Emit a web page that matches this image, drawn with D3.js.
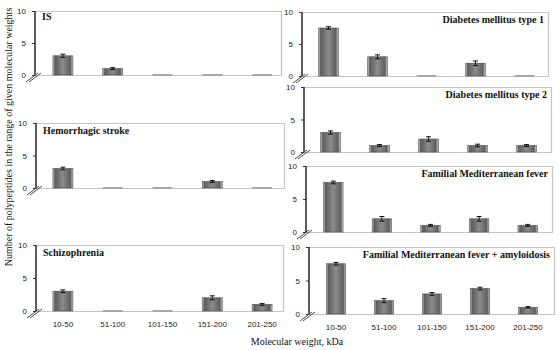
<!DOCTYPE html>
<html>
<head>
<meta charset="utf-8">
<script src="https://cdn.jsdelivr.net/npm/d3@7"></script>
<style>
  html, body { margin: 0; padding: 0; background: #fff; }
  svg { display: block; }
  .serif { font-family: "Liberation Serif", "DejaVu Serif", "Times New Roman", Times, serif; }
  .sans { font-family: "Liberation Sans", Arial, Helvetica, sans-serif; }
</style>
</head>
<body>
<svg id="chart" width="560" height="350"></svg>
<script>
// ---- data ----
const categories = ["10-50", "51-100", "101-150", "151-200", "201-250"];
const yTicks = [0, 5, 10];
const panelTitles = [
  "IS", "Hemorrhagic stroke", "Schizophrenia",
  "Diabetes mellitus type 1", "Diabetes mellitus type 2",
  "Familial Mediterranean fever", "Familial Mediterranean fever + amyloidosis"
];
const valuesIS            = [3, 1, 0, 0, 0];
const valuesHemorrhagic   = [3, 0, 0, 1, 0];
const valuesSchizophrenia = [3, 0, 0, 2, 1];
const valuesDM1           = [7.5, 3, 0, 2, 0];
const valuesDM2           = [3, 1, 2, 1, 1];
const valuesFMF           = [7.5, 2, 1, 2, 1];
const valuesFMFAmyloid    = [7.5, 2, 3, 3.8, 1];
const errIS            = [0.25, 0.15, 0, 0, 0];
const errHemorrhagic   = [0.2, 0, 0, 0.15, 0];
const errSchizophrenia = [0.2, 0, 0, 0.3, 0.15];
const errDM1           = [0.2, 0.3, 0, 0.35, 0];
const errDM2           = [0.25, 0.15, 0.35, 0.2, 0.15];
const errFMF           = [0.2, 0.35, 0.15, 0.35, 0.15];
const errFMFAmyloid    = [0.2, 0.3, 0.2, 0.2, 0.1];
const yLabel = "Number of polypeptides in the range of given molecular weights";
const xLabel = "Molecular weight, kDa";

const seriesValues = [valuesIS, valuesHemorrhagic, valuesSchizophrenia, valuesDM1, valuesDM2, valuesFMF, valuesFMFAmyloid];
const seriesErrors = [errIS, errHemorrhagic, errSchizophrenia, errDM1, errDM2, errFMF, errFMFAmyloid];

// ---- layout (positions only) ----
const layout = [
  {x0: 35,  x1: 281, yTop: 11,  yZero: 75,  b0: 38,  b1: 287, titleAnchor: "start", showX: false},
  {x0: 36,  x1: 284, yTop: 123, yZero: 188, b0: 38,  b1: 287, titleAnchor: "start", showX: false},
  {x0: 36,  x1: 283, yTop: 245, yZero: 311, b0: 38,  b1: 287, titleAnchor: "start", showX: true},
  {x0: 302, x1: 548, yTop: 12,  yZero: 76,  b0: 304, b1: 549, titleAnchor: "end", showX: false},
  {x0: 304, x1: 551, yTop: 87,  yZero: 152, b0: 306, b1: 551, titleAnchor: "end", showX: false},
  {x0: 306, x1: 552, yTop: 166, yZero: 232, b0: 309, b1: 552, titleAnchor: "end", showX: false},
  {x0: 309, x1: 554, yTop: 247, yZero: 314, b0: 312, b1: 552, titleAnchor: "end", showX: true}
];

const svg = d3.select("#chart");
const defs = svg.append("defs");
const grad = defs.append("linearGradient").attr("id", "barGrad")
  .attr("x1", "0%").attr("x2", "100%").attr("y1", "0%").attr("y2", "0%");
[[0, "#d4d4d4"], [0.1, "#5c5c5c"], [0.5, "#8c8c8c"], [0.88, "#5e5e5e"], [1, "#cfcfcf"]]
  .forEach(([o, c]) => grad.append("stop").attr("offset", o).attr("stop-color", c));

layout.forEach((L, i) => {
  const vals = seriesValues[i];
  const errs = seriesErrors[i];
  const g = svg.append("g");
  const x = d3.scaleBand().domain(categories).range([L.b0, L.b1]).paddingInner(0.6).paddingOuter(0.3);
  const y = d3.scaleLinear().domain([0, 10]).range([L.yZero, L.yTop]);

  g.append("path")
    .attr("d", `M${L.x0},${L.yTop + 0.5}H${L.x1 + 0.5}V${L.yZero + 0.5}H${L.x0}`)
    .attr("fill", "none").attr("stroke", "#c4c4c4").attr("stroke-width", 1.2);

  const ax = g.append("g").attr("transform", `translate(${L.x0},0)`)
    .call(d3.axisLeft(y).tickValues(yTicks).tickSize(3).tickPadding(6));
  ax.attr("font-family", null).attr("font-size", null);
  ax.select(".domain").attr("stroke", "#333").attr("stroke-width", 1.6).attr("d", `M0,${L.yTop}V${L.yZero}`);
  ax.selectAll(".tick line").attr("stroke", "#333");
  ax.selectAll(".tick text").attr("class", "sans").style("font-size", "8px").attr("fill", "#222");

  [0, 3].forEach(off => {
    g.append("line")
      .attr("x1", L.x0 - 9 + off).attr("y1", L.yZero + 7)
      .attr("x2", L.x0 + 3 + off).attr("y2", L.yZero - 2)
      .attr("stroke", "#333").attr("stroke-width", 0.9);
  });

  categories.forEach((c, k) => {
    const v = vals[k];
    const bx = x(c), bw = x.bandwidth();
    if (v > 0) {
      g.append("rect")
        .attr("x", bx).attr("y", y(v)).attr("width", bw).attr("height", y(0) - y(v))
        .attr("fill", "url(#barGrad)").attr("stroke", "#4a4a4a").attr("stroke-width", 0.6);
      const e = errs[k];
      if (e > 0) {
        const cx = bx + bw / 2;
        g.append("path")
          .attr("d", `M${cx},${y(v + e)}V${y(v - e)}M${cx - 2.5},${y(v + e)}H${cx + 2.5}M${cx - 2.5},${y(v - e)}H${cx + 2.5}`)
          .attr("stroke", "#111").attr("stroke-width", 1).attr("fill", "none");
      }
    } else {
      g.append("rect")
        .attr("x", bx).attr("y", y(0) - 1).attr("width", bw).attr("height", 2)
        .attr("fill", "#a8a8a8");
    }
  });

  if (L.showX) {
    const xa = g.append("g").attr("transform", `translate(0,${L.yZero})`)
      .call(d3.axisBottom(x).tickSize(0).tickPadding(10));
    xa.attr("font-family", null).attr("font-size", null);
    xa.select(".domain").remove();
    xa.selectAll(".tick text").attr("class", "sans").style("font-size", "8px").attr("fill", "#222");
  }

  g.append("text")
    .attr("class", "serif")
    .attr("x", L.titleAnchor === "start" ? L.x0 + 7 : L.x1 - 4)
    .attr("y", L.yTop + (i === 0 ? 9 : 11))
    .attr("text-anchor", L.titleAnchor)
    .style("font-size", "10px").style("font-weight", "bold")
    .attr("fill", "#111")
    .text(panelTitles[i]);
});

svg.append("text")
  .attr("class", "serif")
  .attr("transform", "translate(12,137) rotate(-90)")
  .attr("text-anchor", "middle")
  .style("font-size", "10px").attr("fill", "#111")
  .text(yLabel);

svg.append("text")
  .attr("class", "serif")
  .attr("x", 297).attr("y", 345)
  .attr("text-anchor", "middle")
  .style("font-size", "10px").attr("fill", "#111")
  .text(xLabel);
</script>
</body>
</html>
